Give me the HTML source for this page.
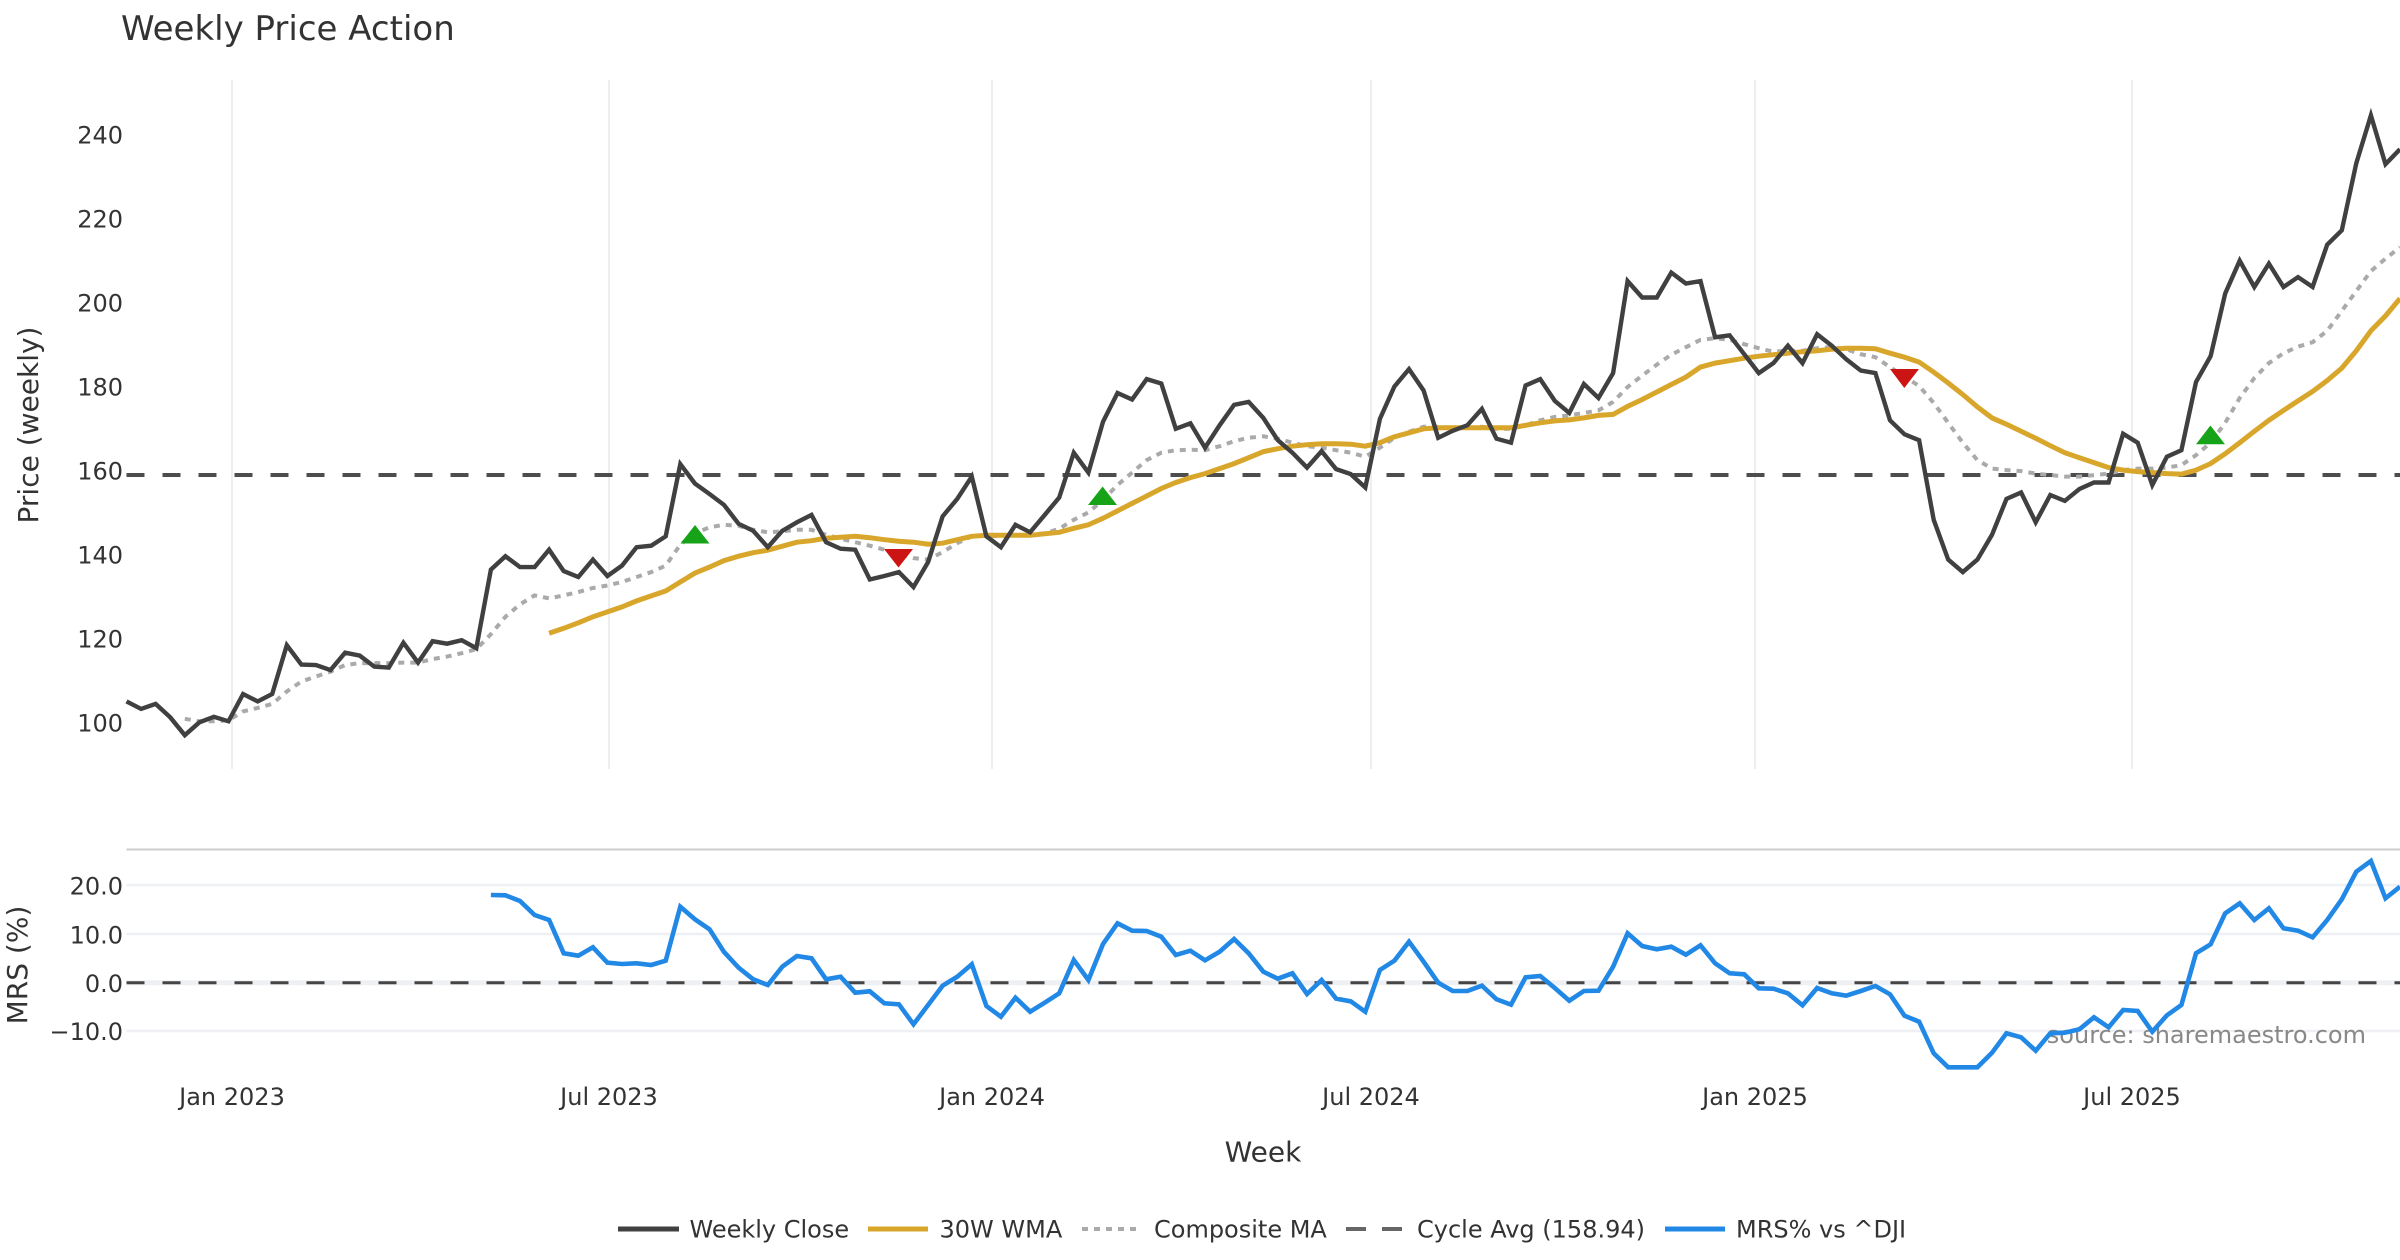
<!DOCTYPE html>
<html>
<head>
<meta charset="utf-8">
<style>
html,body{margin:0;padding:0;background:#fff;}
body{width:2400px;height:1260px;overflow:hidden;}
svg{display:block;font-family:"DejaVu Sans","Liberation Sans",sans-serif;}
</style>
</head>
<body>
<svg width="2400" height="1260" viewBox="0 0 2400 1260" xmlns="http://www.w3.org/2000/svg">
<rect x="0" y="0" width="2400" height="1260" fill="#ffffff"/>

<!-- Title -->
<text x="121" y="40" font-size="34" fill="#333">Weekly Price Action</text>

<!-- Price panel vertical gridlines -->
<g stroke="#eceef1" stroke-width="2">
<line x1="232" y1="80" x2="232" y2="769"/>
<line x1="609" y1="80" x2="609" y2="769"/>
<line x1="992" y1="80" x2="992" y2="769"/>
<line x1="1371" y1="80" x2="1371" y2="769"/>
<line x1="1755" y1="80" x2="1755" y2="769"/>
<line x1="2132" y1="80" x2="2132" y2="769"/>
</g>

<!-- Price y tick labels -->
<g font-size="24" fill="#333" text-anchor="end">
<text x="123" y="143.4">240</text>
<text x="123" y="227.4">220</text>
<text x="123" y="311.4">200</text>
<text x="123" y="395.4">180</text>
<text x="123" y="479.4">160</text>
<text x="123" y="563.4">140</text>
<text x="123" y="647.4">120</text>
<text x="123" y="731.4">100</text>
</g>
<text transform="translate(38,425) rotate(-90)" text-anchor="middle" font-size="28" fill="#333">Price (weekly)</text>

<!-- Cycle avg dashed -->
<line x1="126.5" y1="475" x2="2400" y2="475" stroke="#4d4d4d" stroke-width="4" stroke-dasharray="18 18"/>

<!-- Composite MA dotted -->
<polyline fill="none" stroke="#aaaaaa" stroke-width="4" stroke-dasharray="6 6" points="184.8,718.8 199.4,721.3 213.9,721.3 228.5,720.3 243.1,711.4 257.7,707.9 272.2,703.9 286.8,691.5 301.4,681.5 316.0,676.5 330.5,671.6 345.1,665.1 359.7,663.1 374.3,663.1 388.8,663.1 403.4,662.6 418.0,662.6 432.6,659.1 447.1,656.6 461.7,653.2 476.3,649.2 490.9,634.2 505.4,616.8 520.0,604.4 534.6,595.4 549.1,598.4 563.7,595.4 578.3,592.0 592.9,588.0 607.4,585.5 622.0,582.0 636.6,577.0 651.2,572.1 665.7,565.6 680.3,544.7 694.9,533.3 709.5,527.3 724.0,524.8 738.6,525.8 753.2,529.8 767.8,532.3 782.3,531.3 796.9,529.8 811.5,529.8 826.1,534.8 840.6,538.7 855.2,542.2 869.8,545.7 884.3,549.7 898.9,553.7 913.5,558.1 928.1,559.6 942.6,552.2 957.2,543.2 971.8,536.3 986.4,535.8 1000.9,536.3 1015.5,535.3 1030.1,534.8 1044.7,533.3 1059.2,528.8 1073.8,519.8 1088.4,512.4 1103.0,499.9 1117.5,485.0 1132.1,472.6 1146.7,460.1 1161.3,452.7 1175.8,450.2 1190.4,449.7 1205.0,450.2 1219.6,446.2 1234.1,441.2 1248.7,437.8 1263.3,436.3 1277.8,438.7 1292.4,442.7 1307.0,446.2 1321.6,447.7 1336.1,450.2 1350.7,452.7 1365.3,456.7 1379.9,447.7 1394.4,437.8 1409.0,431.8 1423.6,426.8 1438.2,426.8 1452.7,427.8 1467.3,427.8 1481.9,426.8 1496.5,428.8 1511.0,428.8 1525.6,425.3 1540.2,420.3 1554.8,416.9 1569.3,415.4 1583.9,412.9 1598.5,410.4 1613.1,401.9 1627.6,387.0 1642.2,375.6 1656.8,364.6 1671.3,354.7 1685.9,347.2 1700.5,339.8 1715.1,338.3 1729.6,339.8 1744.2,344.2 1758.8,348.2 1773.4,351.7 1787.9,350.7 1802.5,350.7 1817.1,348.2 1831.7,347.2 1846.2,349.2 1860.8,354.2 1875.4,357.2 1890.0,367.1 1904.5,376.6 1919.1,386.0 1933.7,402.9 1948.2,422.8 1962.8,442.7 1977.4,460.1 1992.0,468.6 2006.5,470.1 2021.1,471.1 2035.7,473.6 2050.3,475.1 2064.8,476.6 2079.4,476.6 2094.0,475.1 2108.6,473.6 2123.1,470.1 2137.7,468.6 2152.3,468.6 2166.9,467.6 2181.4,465.1 2196.0,455.2 2210.6,442.7 2225.2,422.8 2239.7,398.0 2254.3,378.1 2268.9,363.1 2283.5,353.2 2298.0,346.7 2312.6,342.2 2327.2,330.8 2341.8,310.9 2356.3,291.0 2370.9,271.1 2385.5,258.7 2400.0,247.2"/>

<!-- 30W WMA -->
<polyline fill="none" stroke="#d8a62a" stroke-width="5" points="549.1,633.3 563.7,628.3 578.3,622.8 592.9,616.8 607.4,611.9 622.0,606.9 636.6,600.9 651.2,595.9 665.7,591.0 680.3,582.0 694.9,573.1 709.5,567.1 724.0,560.6 738.6,556.2 753.2,552.7 767.8,550.2 782.3,546.2 796.9,542.2 811.5,540.7 826.1,538.2 840.6,537.2 855.2,536.3 869.8,537.7 884.3,539.7 898.9,541.2 913.5,542.2 928.1,544.2 942.6,543.2 957.2,539.7 971.8,536.3 986.4,535.3 1000.9,535.3 1015.5,535.3 1030.1,535.3 1044.7,533.8 1059.2,532.3 1073.8,528.3 1088.4,524.8 1103.0,518.3 1117.5,510.9 1132.1,503.4 1146.7,496.0 1161.3,488.5 1175.8,482.5 1190.4,477.6 1205.0,473.6 1219.6,468.6 1234.1,463.6 1248.7,457.7 1263.3,451.7 1277.8,448.7 1292.4,446.2 1307.0,444.7 1321.6,443.7 1336.1,443.7 1350.7,444.2 1365.3,446.2 1379.9,442.7 1394.4,436.8 1409.0,432.8 1423.6,428.8 1438.2,427.8 1452.7,427.8 1467.3,427.8 1481.9,427.8 1496.5,427.8 1511.0,427.8 1525.6,425.3 1540.2,422.8 1554.8,420.9 1569.3,419.9 1583.9,417.9 1598.5,415.4 1613.1,414.4 1627.6,406.4 1642.2,399.5 1656.8,392.0 1671.3,384.5 1685.9,377.1 1700.5,367.1 1715.1,363.1 1729.6,360.7 1744.2,358.2 1758.8,356.2 1773.4,354.7 1787.9,353.2 1802.5,351.7 1817.1,350.7 1831.7,349.2 1846.2,348.2 1860.8,348.2 1875.4,348.7 1890.0,353.2 1904.5,357.2 1919.1,362.1 1933.7,372.1 1948.2,383.0 1962.8,394.5 1977.4,406.9 1992.0,417.9 2006.5,424.3 2021.1,431.3 2035.7,438.3 2050.3,445.7 2064.8,452.7 2079.4,457.7 2094.0,462.6 2108.6,467.6 2123.1,470.1 2137.7,471.6 2152.3,472.6 2166.9,473.6 2181.4,474.1 2196.0,470.1 2210.6,463.6 2225.2,453.7 2239.7,442.7 2254.3,431.3 2268.9,420.3 2283.5,410.4 2298.0,400.9 2312.6,391.5 2327.2,380.5 2341.8,368.1 2356.3,350.7 2370.9,330.8 2385.5,315.9 2400.0,298.5"/>

<!-- Weekly Close -->
<polyline fill="none" stroke="#404040" stroke-width="4.4" points="126.5,701.4 141.1,708.9 155.6,703.9 170.2,717.3 184.8,735.2 199.4,722.3 213.9,716.8 228.5,721.3 243.1,694.0 257.7,701.4 272.2,694.0 286.8,645.2 301.4,664.6 316.0,665.1 330.5,670.1 345.1,652.7 359.7,655.6 374.3,666.6 388.8,667.6 403.4,642.7 418.0,662.6 432.6,641.2 447.1,643.7 461.7,640.2 476.3,648.2 490.9,569.6 505.4,556.2 520.0,567.1 534.6,567.1 549.1,549.7 563.7,571.1 578.3,577.0 592.9,559.6 607.4,576.0 622.0,565.6 636.6,547.2 651.2,545.7 665.7,536.3 680.3,464.1 694.9,483.5 709.5,494.0 724.0,504.9 738.6,523.8 753.2,530.8 767.8,547.2 782.3,530.8 796.9,522.3 811.5,514.9 826.1,542.2 840.6,548.7 855.2,549.7 869.8,579.5 884.3,576.0 898.9,572.1 913.5,587.0 928.1,562.1 942.6,516.4 957.2,498.9 971.8,476.6 986.4,536.3 1000.9,547.2 1015.5,524.8 1030.1,532.3 1044.7,514.9 1059.2,497.5 1073.8,452.7 1088.4,472.6 1103.0,421.8 1117.5,393.0 1132.1,399.5 1146.7,379.1 1161.3,383.5 1175.8,428.8 1190.4,423.3 1205.0,447.7 1219.6,425.3 1234.1,404.9 1248.7,401.9 1263.3,417.9 1277.8,440.2 1292.4,452.7 1307.0,467.6 1321.6,451.2 1336.1,469.1 1350.7,474.1 1365.3,487.5 1379.9,418.9 1394.4,386.5 1409.0,369.1 1423.6,390.5 1438.2,437.8 1452.7,430.8 1467.3,425.3 1481.9,408.9 1496.5,438.7 1511.0,442.7 1525.6,385.5 1540.2,379.1 1554.8,400.9 1569.3,412.9 1583.9,384.0 1598.5,398.0 1613.1,373.1 1627.6,281.1 1642.2,297.5 1656.8,297.5 1671.3,272.6 1685.9,283.5 1700.5,281.1 1715.1,337.3 1729.6,335.3 1744.2,354.2 1758.8,373.1 1773.4,363.1 1787.9,345.7 1802.5,363.1 1817.1,334.3 1831.7,345.7 1846.2,359.2 1860.8,370.6 1875.4,373.1 1890.0,420.3 1904.5,434.3 1919.1,440.2 1933.7,519.8 1948.2,559.6 1962.8,572.1 1977.4,559.6 1992.0,534.8 2006.5,498.9 2021.1,492.5 2035.7,522.3 2050.3,495.0 2064.8,500.9 2079.4,489.0 2094.0,482.5 2108.6,482.5 2123.1,433.8 2137.7,442.7 2152.3,485.0 2166.9,456.7 2181.4,450.2 2196.0,382.0 2210.6,356.2 2225.2,293.5 2239.7,260.7 2254.3,287.0 2268.9,263.6 2283.5,287.0 2298.0,277.1 2312.6,287.0 2327.2,244.7 2341.8,230.3 2356.3,163.2 2370.9,115.4 2385.5,164.2 2400.0,149.2"/>

<!-- Signal markers -->
<polygon points="695,525 680.5,543.5 709.5,543.5" fill="#17a317"/>
<polygon points="884,549 913,549 898.5,567.5" fill="#cc1414"/>
<polygon points="1102.6,486.5 1088,505 1117,505" fill="#17a317"/>
<polygon points="1890,369 1919,369 1904.3,388" fill="#cc1414"/>
<polygon points="2210.4,425.5 2196,444.2 2225,444.2" fill="#17a317"/>

<!-- MRS panel -->
<line x1="126.5" y1="849.5" x2="2400" y2="849.5" stroke="#cccccc" stroke-width="2"/>
<g stroke="#eef0f3" stroke-width="2.5">
<line x1="126.5" y1="885" x2="2400" y2="885"/>
<line x1="126.5" y1="934" x2="2400" y2="934"/>
<line x1="126.5" y1="982.7" x2="2400" y2="982.7" stroke-width="5"/>
<line x1="126.5" y1="1031" x2="2400" y2="1031"/>
</g>
<line x1="126.5" y1="982.7" x2="2400" y2="982.7" stroke="#444" stroke-width="3" stroke-dasharray="18 18"/>

<g font-size="24" fill="#333" text-anchor="end">
<text x="123" y="894.5">20.0</text>
<text x="123" y="943.3">10.0</text>
<text x="123" y="992">0.0</text>
<text x="123" y="1040.2">−10.0</text>
</g>
<text transform="translate(27,965) rotate(-90)" text-anchor="middle" font-size="28" fill="#333">MRS (%)</text>

<text x="2366" y="1043" font-size="24" fill="#888" text-anchor="end">source: sharemaestro.com</text>

<polyline fill="none" stroke="#2288e6" stroke-width="4.6" points="490.9,895.0 505.4,895.3 520.0,901.0 534.6,915.0 549.1,920.0 563.7,953.3 578.3,955.7 592.9,947.3 607.4,962.7 622.0,964.0 636.6,963.3 651.2,965.0 665.7,960.7 680.3,906.7 694.9,919.3 709.5,929.3 724.0,952.0 738.6,967.7 753.2,979.3 767.8,985.0 782.3,966.7 796.9,956.0 811.5,958.3 826.1,979.3 840.6,976.7 855.2,992.7 869.8,991.3 884.3,1003.3 898.9,1004.3 913.5,1024.3 928.1,1005.0 942.6,985.7 957.2,976.7 971.8,964.3 986.4,1006.0 1000.9,1016.7 1015.5,997.7 1030.1,1011.7 1044.7,1002.7 1059.2,993.3 1073.8,960.0 1088.4,980.0 1103.0,944.0 1117.5,923.3 1132.1,930.7 1146.7,931.0 1161.3,936.7 1175.8,955.0 1190.4,950.7 1205.0,960.3 1219.6,951.7 1234.1,939.0 1248.7,953.3 1263.3,971.7 1277.8,978.7 1292.4,973.3 1307.0,994.0 1321.6,980.0 1336.1,998.7 1350.7,1001.3 1365.3,1011.7 1379.9,970.0 1394.4,960.7 1409.0,941.7 1423.6,961.7 1438.2,982.7 1452.7,991.0 1467.3,991.0 1481.9,985.7 1496.5,999.3 1511.0,1004.7 1525.6,977.3 1540.2,976.0 1554.8,988.0 1569.3,1000.7 1583.9,991.0 1598.5,990.7 1613.1,966.7 1627.6,933.3 1642.2,946.0 1656.8,949.3 1671.3,946.7 1685.9,954.7 1700.5,945.3 1715.1,963.3 1729.6,973.3 1744.2,974.3 1758.8,988.3 1773.4,988.7 1787.9,993.3 1802.5,1005.3 1817.1,988.0 1831.7,993.3 1846.2,995.7 1860.8,991.0 1875.4,986.0 1890.0,994.3 1904.5,1015.7 1919.1,1021.7 1933.7,1053.3 1948.2,1067.3 1962.8,1067.3 1977.4,1067.3 1992.0,1052.7 2006.5,1033.3 2021.1,1037.3 2035.7,1050.7 2050.3,1033.3 2064.8,1032.7 2079.4,1029.3 2094.0,1017.3 2108.6,1027.3 2123.1,1010.0 2137.7,1011.0 2152.3,1031.7 2166.9,1015.3 2181.4,1005.0 2196.0,953.3 2210.6,944.3 2225.2,913.3 2239.7,903.3 2254.3,920.0 2268.9,908.3 2283.5,928.3 2298.0,930.7 2312.6,937.3 2327.2,920.0 2341.8,899.3 2356.3,871.7 2370.9,861.0 2385.5,898.3 2400.0,886.7"/>

<!-- X tick labels -->
<g font-size="24" fill="#333" text-anchor="middle">
<text x="232" y="1105">Jan 2023</text>
<text x="609" y="1105">Jul 2023</text>
<text x="992" y="1105">Jan 2024</text>
<text x="1371" y="1105">Jul 2024</text>
<text x="1755" y="1105">Jan 2025</text>
<text x="2132" y="1105">Jul 2025</text>
</g>
<text x="1263" y="1161.5" font-size="28" fill="#333" text-anchor="middle">Week</text>

<!-- Legend -->
<line x1="618" y1="1229" x2="679" y2="1229" stroke="#404040" stroke-width="5"/>
<text x="689.5" y="1237.5" font-size="24" fill="#333">Weekly Close</text>
<line x1="868" y1="1229" x2="928" y2="1229" stroke="#d8a62a" stroke-width="5"/>
<text x="939.5" y="1237.5" font-size="24" fill="#333">30W WMA</text>
<line x1="1082" y1="1229" x2="1139" y2="1229" stroke="#aaaaaa" stroke-width="4" stroke-dasharray="6 6"/>
<text x="1154" y="1237.5" font-size="24" fill="#333">Composite MA</text>
<line x1="1346" y1="1229" x2="1404" y2="1229" stroke="#666" stroke-width="4" stroke-dasharray="20 16"/>
<text x="1417" y="1237.5" font-size="24" fill="#333">Cycle Avg (158.94)</text>
<line x1="1665" y1="1229" x2="1725" y2="1229" stroke="#2288e6" stroke-width="5"/>
<text x="1736" y="1237.5" font-size="24" fill="#333">MRS% vs ^DJI</text>
</svg>
</body>
</html>
